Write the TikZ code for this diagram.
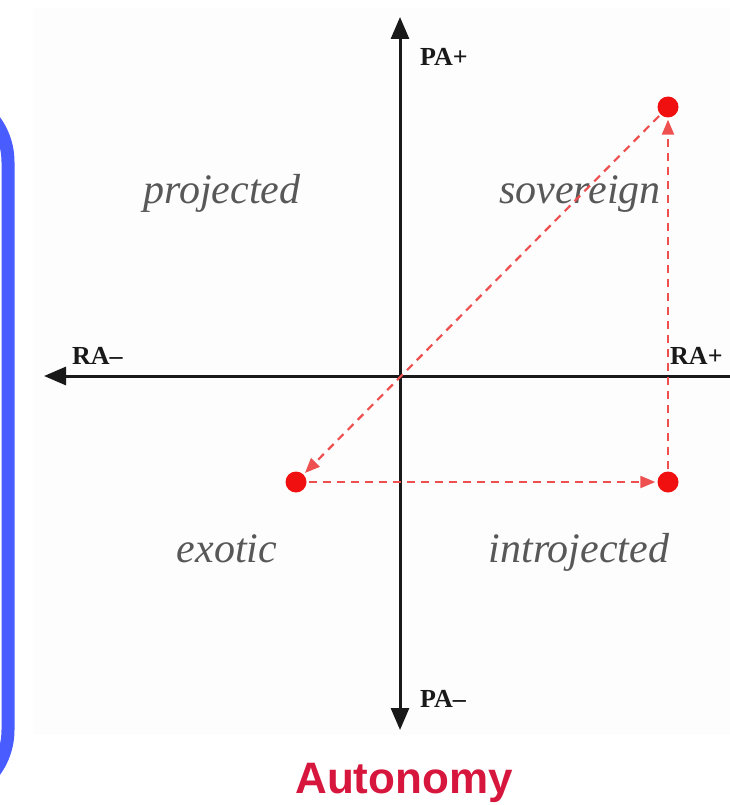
\documentclass[tikz,border=0pt]{standalone}
\usepackage{fontspec}
\setmainfont{Liberation Serif}
\newfontfamily\sansb{Liberation Sans}
\usetikzlibrary{arrows.meta}
\definecolor{bluebar}{RGB}{72,92,255}
\definecolor{panel}{RGB}{253,253,253}
\definecolor{dotred}{RGB}{240,16,16}
\definecolor{dashred}{RGB}{238,80,80}
\definecolor{quadgray}{RGB}{88,88,88}
\definecolor{axisblack}{RGB}{25,25,25}
\definecolor{titlered}{RGB}{215,22,62}
\begin{document}
\begin{tikzpicture}[x=1pt,y=-1pt,
  axisline/.style={line width=3pt,draw=axisblack},
  axistip/.style={-{Triangle[length=22pt,width=18pt]}},
  axislabel/.style={font=\fontsize{26}{28}\selectfont\bfseries,text=axisblack,inner sep=0pt,anchor=base west},
  quad/.style={font=\fontsize{42}{48}\selectfont\itshape,text=quadgray,inner sep=0pt,anchor=base},
  reddot/.style={circle,fill=dotred,draw=none,minimum size=21pt,inner sep=0pt},
  cyclearrow/.style={draw=dashred,line width=2.2pt,dash pattern=on 8pt off 6pt,-{Triangle[length=15pt,width=12pt]},shorten >=2pt,shorten <=2pt},
  titlelabel/.style={font=\fontsize{44}{50}\selectfont\sansb\bfseries,text=titlered,inner sep=0pt,anchor=base}
]
\useasboundingbox (0,0) rectangle (730,805);
% background panel
\fill[panel] (33,8) rectangle (730,735);
% blue frame edge
\draw[bluebar,line width=13pt,rounded corners=70pt] (-150,92) -- (8,92) -- (8,800) -- (-150,800);
% axes
\coordinate (o) at (400,376);
\coordinate (top) at (400,17);
\coordinate (bot) at (400,730);
\coordinate (left) at (44,376);
\coordinate (right) at (735,376);
\draw[axisline,axistip] (o) -- (top);
\draw[axisline,axistip] (o) -- (bot);
\draw[axisline,axistip] (right) -- (left);
% axis labels
\node[axislabel] (paplus) at (420,66) {PA+};
\node[axislabel] (paminus) at (420,707) {PA–};
\node[axislabel] (raminus) at (72,364) {RA–};
\node[axislabel] (raplus) at (670,364) {RA+};
% quadrant labels
\node[quad] (proj) at (222,203) {projected};
\node[quad] (sov) at (580,203) {sovereign};
\node[quad] (exo) at (227,562) {exotic};
\node[quad] (intro) at (579,562) {introjected};
% dots
\node[reddot] (S) at (668,107) {};
\node[reddot] (E) at (296,482) {};
\node[reddot] (I) at (668,482) {};
% cycle arrows
\draw[cyclearrow] (S) -- (E);
\draw[cyclearrow] (E) -- (I);
\draw[cyclearrow] (I) -- (S);
% title
\node[titlelabel] (title) at (404,793) {Autonomy};
\end{tikzpicture}
\end{document}
